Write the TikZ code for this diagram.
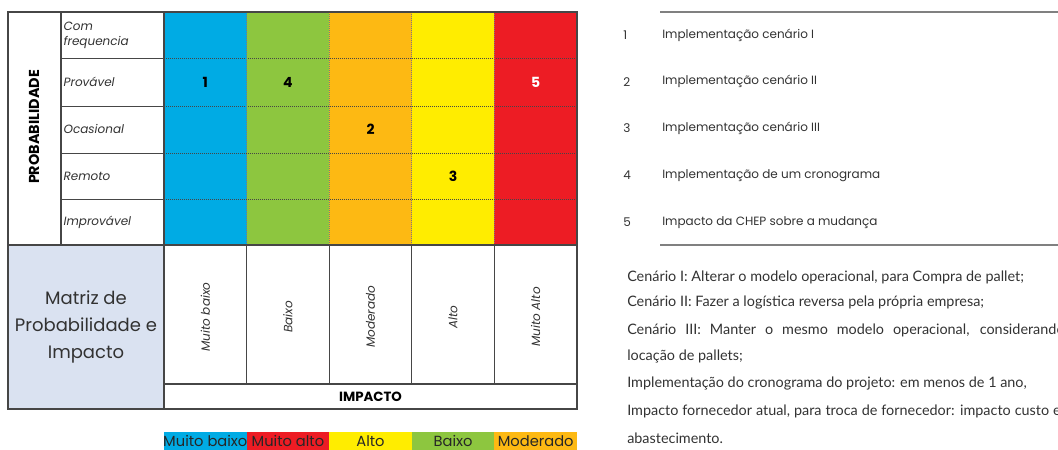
\documentclass[tikz,border=0pt]{standalone}
\usepackage{fontspec}
\setmainfont{Poppins}
\newfontfamily\gillfont{Lato}
\usetikzlibrary{positioning}

\definecolor{mbaixo}{RGB}{0,171,228}
\definecolor{baixo}{RGB}{141,198,63}
\definecolor{moderado}{RGB}{253,185,19}
\definecolor{alto}{RGB}{255,237,0}
\definecolor{malto}{RGB}{237,28,36}
\definecolor{matrizbg}{RGB}{218,226,241}
\definecolor{linegray}{RGB}{70,70,70}
\definecolor{textgray}{RGB}{50,50,50}

\tikzstyle{rowlabel} = [anchor=west, align=left, inner sep=1pt, text=textgray,
  font=\fontsize{9}{11}\selectfont\itshape]
\tikzstyle{score} = [font=\fontsize{10.5}{12}\selectfont\bfseries]
\tikzstyle{impactlabel} = [rotate=90, text=textgray, font=\fontsize{9}{11}\selectfont\itshape]
\tikzstyle{legendlabel} = [inner sep=0pt, font=\fontsize{11}{13}\selectfont, text=black!85]
\tikzstyle{listitem} = [anchor=west, inner sep=0pt, text=textgray, font=\fontsize{9}{11}\selectfont]
\tikzstyle{paraline} = [anchor=west, inner sep=0pt, text=textgray, font=\gillfont\fontsize{10.8}{12}\selectfont]

\begin{document}
\begin{tikzpicture}[x=0.75pt,y=-0.75pt]
  \useasboundingbox (0,0) rectangle (1058,450);
  \clip (0,0) rectangle (1058,450);

  % colour columns of the matrix
  \foreach \c [count=\i] in {mbaixo,baixo,moderado,alto,malto}
    \fill[\c] ({164+82.6*(\i-1)},12) rectangle ({164+82.6*\i},245);
  \fill[matrizbg] (8,245) rectangle (164,409);

  % dotted grid inside the colours
  \foreach \y in {58,106,153,199}
    \draw[linegray, densely dotted, line width=0.5pt] (164,\y) -- (577,\y);
  \foreach \i in {1,...,4}
    \draw[linegray!70, densely dotted, line width=0.5pt] ({164+82.6*\i},12) -- ({164+82.6*\i},245);

  % solid lines
  \foreach \y in {58,106,153,199}
    \draw[linegray, line width=0.7pt] (61,\y) -- (164,\y);
  \draw[linegray, line width=0.8pt] (61,12) -- (61,245);
  \draw[linegray, line width=0.8pt] (164,12) -- (164,409);
  \draw[linegray, line width=0.8pt] (8,245) -- (577,245);
  \draw[linegray, line width=0.8pt] (164,384) -- (577,384);
  \foreach \i in {1,...,4}
    \draw[linegray, line width=0.7pt] ({164+82.6*\i},245) -- ({164+82.6*\i},384);
  \draw[linegray, line width=1pt] (8,12) rectangle (577,409);

  % probability axis
  \node (prob) [rotate=90, font=\fontsize{10.8}{12}\selectfont\bfseries] at (34,127) {PROBABILIDADE};
  \node (r1) [rowlabel] at (62,35) {Com\\frequencia};
  \node (r2) [rowlabel] at (62,82) {Provável};
  \node (r3) [rowlabel] at (62,129) {Ocasional};
  \node (r4) [rowlabel] at (62,176) {Remoto};
  \node (r5) [rowlabel] at (62,222) {Improvável};

  % risks placed in the matrix
  \node (s1) [score] at (205.3,82) {1};
  \node (s4) [score] at (287.9,82) {4};
  \node (s5) [score, text=white] at (535.7,82) {5};
  \node (s2) [score] at (370.5,129) {2};
  \node (s3) [score] at (453.1,176) {3};

  % impact axis
  \node (matriz) [align=center, text=textgray, font=\fontsize{13.5}{20}\selectfont] at (86,327)
    {Matriz de\\Probabilidade e\\Impacto};
  \foreach \t [count=\i] in {Muito baixo,Baixo,Moderado,Alto,Muito Alto}
    \node (imp\i) [impactlabel] at ({164+82.6*(\i-0.5)},317) {\t};
  \node (impacto) [font=\fontsize{10}{12}\selectfont\bfseries] at (370.5,397) {IMPACTO};

  % legend
  \foreach \c/\t [count=\i] in {mbaixo/Muito baixo,malto/Muito alto,alto/Alto,baixo/Baixo,moderado/Moderado}
  {
    \fill[\c] ({164+82.6*(\i-1)},432) rectangle ({164+82.6*\i},456);
    \node (leg\i) [legendlabel] at ({164+82.6*(\i-0.5)},441) {\t};
  }

  % list of risks
  \draw[gray, line width=1.4pt] (660,12) -- (1058,12);
  \draw[gray, line width=1.4pt] (660,245) -- (1058,245);
  \foreach \t [count=\i] in {Implementação cenário I,Implementação cenário II,
      Implementação cenário III,Implementação de um cronograma,Impacto da CHEP sobre a mudança}
  {
    \node (n\i) [listitem] at (623,{35+46.8*(\i-1)}) {\i};
    \node (l\i) [listitem] at (662,{35+46.8*(\i-1)}) {\t};
  }

  % notes
  \node (p1) [paraline] at (627,277) {Cenário I: Alterar o modelo operacional, para Compra de pallet;};
  \node (p2) [paraline] at (627,303) {Cenário II: Fazer a logística reversa pela própria empresa;};
  \node (p3) [paraline] at (627,330) {\makebox[328pt][s]{Cenário III: Manter o mesmo modelo operacional, considerando}};
  \node (p4) [paraline] at (627,356) {locação de pallets;};
  \node (p5) [paraline] at (627,384) {Implementação do cronograma do projeto: em menos de 1 ano,};
  \node (p6) [paraline] at (627,411) {\makebox[325pt][s]{Impacto fornecedor atual, para troca de fornecedor: impacto custo e}};
  \node (p7) [paraline] at (627,438) {abastecimento.};
\end{tikzpicture}
\end{document}
